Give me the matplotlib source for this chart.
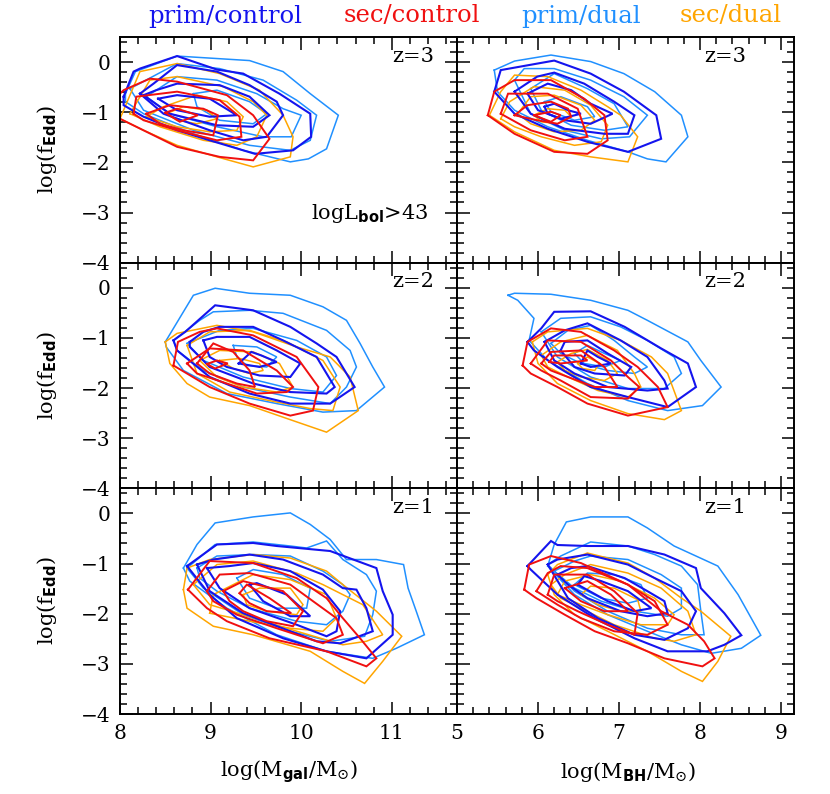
import numpy as np
import matplotlib
matplotlib.use("Agg")
import matplotlib.pyplot as plt
from matplotlib.ticker import MultipleLocator

plt.rcParams['font.family'] = ['DejaVu Serif']
plt.rcParams['mathtext.fontset'] = 'custom'
plt.rcParams['mathtext.rm'] = 'DejaVu Serif'
plt.rcParams['mathtext.it'] = 'DejaVu Serif:italic'
plt.rcParams['mathtext.bf'] = 'DejaVu Sans:bold'

series_names = ["prim/control", "sec/control", "prim/dual", "sec/dual"]
series_colors = ["#1414ee", "#f01010", "#2090ff", "#ffa500"]
series_lw = [1.5, 1.4, 1.1, 1.1]
redshifts = ["z=3", "z=2", "z=1"]
xlabels = [r"log(M$_{\mathbf{gal}}$/M$_{\odot}$)", r"log(M$_{\mathbf{BH}}$/M$_{\odot}$)"]
ylabel = r"log(f$_{\mathbf{Edd}}$)"
yticks = [0, -1, -2, -3, -4]
xticks_gal = [8, 9, 10, 11]
xticks_bh = [5, 6, 7, 8, 9]

# ---------------- contour vertices (x, log fEdd) ----------------
# z=3, galaxy mass
z3_gal_prim_control = [
    [(8.04,-0.69),(8.15,-0.19),(8.22,-0.13),(8.63,0.12),(9.07,-0.15),(9.36,-0.23),(9.76,-0.63),(10.10,-1.03),(10.11,-1.49),(9.91,-1.76),(9.49,-1.83),(8.99,-1.56),(8.63,-1.36),(8.26,-1.09),(8.04,-0.86)],
    [(8.22,-0.63),(8.37,-0.43),(8.63,-0.06),(9.07,-0.19),(9.43,-0.46),(9.73,-0.79),(9.80,-1.06),(9.62,-1.49),(9.36,-1.56),(8.99,-1.36),(8.48,-1.03)],
    [(8.26,-0.66),(8.40,-0.56),(8.63,-0.43),(9.10,-0.46),(9.43,-0.69),(9.65,-1.06),(9.47,-1.29),(9.07,-1.26),(8.55,-1.03)],
    [(8.42,-0.73),(8.63,-0.66),(8.99,-0.73),(9.29,-1.06),(8.99,-1.09),(8.63,-0.96)],
]
z3_gal_sec_control = [
    [(8.00,-0.63),(8.04,-0.56),(8.33,-0.33),(8.63,-0.39),(9.18,-0.66),(9.47,-1.06),(9.65,-1.53),(9.47,-1.96),(9.10,-1.89),(8.63,-1.69),(8.00,-1.13)],
    [(8.15,-1.03),(8.18,-0.69),(8.63,-0.59),(9.10,-0.76),(9.32,-1.09),(9.34,-1.49),(9.07,-1.56),(8.63,-1.36),(8.26,-1.16)],
    [(8.29,-1.03),(8.55,-0.86),(8.92,-0.93),(9.08,-1.06),(9.03,-1.46),(8.70,-1.36),(8.44,-1.23)],
    [(8.50,-1.01),(8.63,-0.93),(8.86,-1.06),(8.66,-1.19)],
]
z3_gal_prim_dual = [
    [(8.06,-0.63),(8.17,-0.19),(8.63,0.12),(9.43,0.03),(9.80,-0.19),(10.10,-0.63),(10.41,-1.06),(10.28,-1.73),(10.08,-1.93),(9.88,-1.99),(9.36,-1.76),(8.81,-1.43),(8.26,-1.03),(8.06,-0.79)],
    [(8.11,-0.53),(8.63,-0.03),(9.10,-0.13),(9.58,-0.36),(9.95,-0.76),(10.17,-1.06),(10.10,-1.56),(9.88,-1.76),(9.43,-1.66),(8.81,-1.36),(8.26,-0.96)],
    [(8.29,-0.69),(8.63,-0.29),(9.07,-0.36),(9.51,-0.63),(9.80,-0.93),(10.00,-1.06),(9.89,-1.49),(9.58,-1.49),(9.07,-1.29),(8.55,-1.03)],
    [(8.81,-0.63),(9.07,-0.56),(9.43,-0.79),(9.62,-1.03),(9.47,-1.23),(9.10,-1.16),(8.85,-0.89)],
]
z3_gal_sec_dual = [
    [(8.00,-1.13),(8.22,-0.19),(8.63,-0.03),(9.10,-0.23),(9.54,-0.56),(9.80,-1.06),(9.91,-1.49),(9.88,-1.89),(9.47,-2.09),(9.07,-1.89),(8.63,-1.66),(8.26,-1.36)],
    [(8.11,-1.03),(8.33,-0.36),(8.63,-0.29),(9.14,-0.49),(9.47,-0.79),(9.62,-1.06),(9.51,-1.49),(9.29,-1.66),(8.92,-1.56),(8.44,-1.29)],
    [(8.29,-1.09),(8.48,-0.89),(8.85,-0.66),(9.18,-0.79),(9.36,-1.09),(9.29,-1.36),(8.99,-1.39),(8.63,-1.29)],
    [(8.51,-1.03),(8.70,-0.89),(8.96,-0.96),(9.07,-1.13),(8.85,-1.23),(8.63,-1.16)],
]
# z=3, black hole mass
z3_bh_prim_control = [
    [(5.46,-0.59),(5.54,-0.16),(6.20,0.03),(6.65,-0.23),(7.06,-0.59),(7.46,-1.06),(7.52,-1.53),(7.11,-1.79),(6.61,-1.59),(6.12,-1.33),(5.71,-1.03)],
    [(5.71,-0.59),(5.99,-0.29),(6.20,-0.21),(6.57,-0.43),(6.94,-0.79),(7.19,-1.06),(7.11,-1.43),(6.82,-1.43),(6.33,-1.33),(5.91,-1.03)],
    [(5.87,-0.63),(6.12,-0.43),(6.41,-0.56),(6.65,-0.83),(6.92,-1.03),(6.65,-1.23),(6.33,-1.16),(6.00,-0.96)],
    [(6.08,-0.89),(6.20,-0.83),(6.37,-0.96),(6.53,-1.03),(6.28,-1.13),(6.12,-1.03)],
]
z3_bh_sec_control = [
    [(5.38,-1.06),(5.46,-0.59),(5.71,-0.36),(6.16,-0.36),(6.57,-0.73),(6.82,-1.06),(6.86,-1.56),(6.61,-1.83),(6.20,-1.79),(5.71,-1.43)],
    [(5.54,-1.03),(5.63,-0.63),(6.12,-0.63),(6.49,-0.93),(6.61,-1.49),(6.33,-1.56),(5.91,-1.36)],
    [(5.71,-1.06),(5.87,-0.86),(6.16,-0.79),(6.37,-0.93),(6.41,-1.09),(6.24,-1.23),(5.99,-1.16)],
    [(5.95,-1.06),(6.16,-0.99),(6.28,-1.06),(6.16,-1.19)],
]
z3_bh_prim_dual = [
    [(5.46,-0.16),(5.71,0.02),(6.16,0.14),(6.65,0.01),(7.06,-0.23),(7.44,-0.59),(7.77,-1.06),(7.85,-1.49),(7.58,-1.99),(7.35,-1.93),(7.11,-1.79),(6.61,-1.56),(6.12,-1.29),(5.71,-0.96),(5.50,-0.59)],
    [(5.71,-0.36),(5.83,-0.13),(6.20,-0.13),(6.65,-0.36),(7.06,-0.69),(7.35,-1.06),(7.13,-1.49),(6.78,-1.53),(6.33,-1.36),(5.91,-1.03)],
    [(5.91,-0.53),(6.20,-0.23),(6.61,-0.53),(6.94,-0.83),(7.11,-1.29),(6.82,-1.36),(6.41,-1.26),(6.04,-0.96)],
    [(6.08,-0.79),(6.28,-0.69),(6.61,-0.89),(6.70,-1.09),(6.45,-1.16),(6.16,-0.99)],
]
z3_bh_sec_dual = [
    [(5.40,-1.06),(5.54,-0.59),(5.71,-0.26),(6.12,-0.29),(6.53,-0.56),(6.86,-0.89),(7.02,-1.06),(7.23,-1.49),(7.11,-1.99),(6.65,-1.89),(6.20,-1.76),(5.71,-1.39)],
    [(5.54,-1.13),(5.65,-0.79),(5.95,-0.49),(6.33,-0.56),(6.65,-0.86),(6.86,-1.26),(6.78,-1.59),(6.45,-1.66),(6.04,-1.49),(5.71,-1.29)],
    [(5.75,-1.03),(5.91,-0.69),(6.20,-0.66),(6.53,-0.86),(6.70,-1.16),(6.53,-1.36),(6.20,-1.39),(5.91,-1.23)],
    [(5.95,-1.06),(6.12,-0.93),(6.33,-0.96),(6.41,-1.09),(6.24,-1.23),(6.04,-1.19)],
]
# z=2, galaxy mass
z2_gal_prim_control = [
    [(8.59,-1.05),(8.72,-0.88),(9.05,-0.35),(9.47,-0.45),(9.88,-0.78),(10.17,-1.11),(10.39,-1.38),(10.59,-1.98),(10.32,-2.31),(9.88,-2.31),(9.43,-2.11),(8.99,-1.78),(8.63,-1.25)],
    [(8.77,-1.08),(8.92,-0.88),(9.10,-0.78),(9.47,-0.78),(9.80,-1.05),(10.17,-1.38),(10.37,-1.98),(10.28,-2.11),(9.88,-2.08),(9.47,-1.91),(8.99,-1.58),(8.77,-1.18)],
    [(8.92,-1.05),(9.07,-0.98),(9.43,-0.98),(9.73,-1.25),(9.99,-1.51),(9.88,-1.78),(9.54,-1.75),(9.18,-1.58),(8.99,-1.38)],
    [(9.31,-1.51),(9.45,-1.28),(9.56,-1.35),(9.73,-1.48),(9.54,-1.58)],
]
z2_gal_sec_control = [
    [(8.59,-1.55),(8.64,-1.08),(8.88,-0.88),(9.07,-0.81),(9.47,-0.95),(9.95,-1.38),(10.19,-1.98),(10.13,-2.45),(9.88,-2.55),(9.43,-2.31),(8.99,-1.98)],
    [(8.74,-1.51),(8.99,-1.21),(9.36,-1.25),(9.73,-1.65),(9.91,-1.98),(9.84,-2.08),(9.51,-2.11),(9.18,-1.91),(8.85,-1.71)],
    [(8.85,-1.51),(9.03,-1.11),(9.25,-1.28),(9.43,-1.65),(9.49,-1.98),(9.29,-1.91),(8.99,-1.71)],
    [(8.96,-1.52),(9.07,-1.45),(9.19,-1.51),(9.05,-1.61)],
]
z2_gal_prim_dual = [
    [(8.50,-1.08),(8.81,-0.15),(9.05,-0.01),(9.43,-0.11),(9.88,-0.15),(10.24,-0.38),(10.50,-0.65),(10.65,-1.11),(10.79,-1.58),(10.92,-1.98),(10.61,-2.45),(10.24,-2.48),(9.73,-2.31),(9.18,-2.11),(8.70,-1.65),(8.51,-1.18)],
    [(8.59,-1.05),(8.88,-0.65),(9.03,-0.48),(9.43,-0.45),(9.80,-0.51),(10.28,-0.85),(10.54,-1.25),(10.61,-1.58),(10.50,-1.98),(10.32,-2.31),(9.88,-2.18),(9.36,-1.98),(8.92,-1.65),(8.63,-1.25)],
    [(8.74,-1.11),(9.10,-0.85),(9.47,-0.81),(9.95,-1.05),(10.28,-1.38),(10.39,-1.75),(10.24,-2.08),(9.88,-2.01),(9.36,-1.78),(8.92,-1.45)],
    [(9.25,-1.15),(9.51,-1.18),(9.73,-1.38),(9.62,-1.58),(9.40,-1.55),(9.29,-1.38)],
]
z2_gal_sec_dual = [
    [(8.50,-1.08),(8.63,-0.91),(9.07,-0.75),(9.47,-0.88),(9.95,-1.18),(10.32,-1.38),(10.54,-1.78),(10.63,-2.45),(10.28,-2.88),(9.91,-2.65),(9.43,-2.35),(8.99,-2.18),(8.74,-1.91),(8.55,-1.51)],
    [(8.74,-1.15),(8.99,-0.88),(9.43,-0.85),(9.84,-1.08),(10.24,-1.45),(10.43,-1.98),(10.35,-2.45),(10.10,-2.41),(9.65,-2.25),(9.21,-2.08),(8.85,-1.71)],
    [(8.88,-1.45),(9.10,-1.25),(9.47,-1.28),(9.76,-1.51),(9.91,-1.98),(9.73,-2.08),(9.36,-1.98),(9.07,-1.78)],
    [(9.10,-1.45),(9.32,-1.41),(9.54,-1.51),(9.58,-1.65),(9.43,-1.71),(9.25,-1.61)],
]
# z=2, black hole mass
z2_bh_prim_control = [
    [(5.87,-1.08),(6.04,-0.81),(6.20,-0.48),(6.65,-0.47),(7.07,-0.78),(7.52,-1.21),(7.85,-1.51),(7.95,-1.98),(7.60,-2.38),(7.11,-2.18),(6.65,-1.98),(6.24,-1.58),(5.95,-1.25)],
    [(6.08,-1.08),(6.33,-0.85),(6.61,-0.71),(7.02,-1.05),(7.35,-1.38),(7.56,-1.85),(7.60,-2.01),(7.35,-2.05),(6.86,-1.98),(6.45,-1.71),(6.20,-1.45)],
    [(6.28,-1.25),(6.33,-1.08),(6.61,-1.05),(6.86,-1.31),(7.15,-1.58),(7.07,-1.75),(6.70,-1.71),(6.45,-1.58)],
    [(6.53,-1.51),(6.61,-1.25),(6.74,-1.38),(6.90,-1.51),(6.65,-1.58)],
]
z2_bh_sec_control = [
    [(5.81,-1.55),(5.87,-1.08),(6.16,-0.81),(6.53,-0.88),(6.94,-1.25),(7.23,-1.58),(7.48,-1.98),(7.60,-2.38),(7.11,-2.55),(6.61,-2.31),(6.24,-1.98),(5.91,-1.71)],
    [(5.91,-1.51),(6.12,-1.05),(6.53,-1.08),(6.90,-1.45),(7.11,-1.78),(7.25,-1.98),(7.11,-2.21),(6.65,-2.18),(6.28,-1.85),(6.04,-1.65)],
    [(6.04,-1.51),(6.16,-1.28),(6.53,-1.25),(6.82,-1.58),(6.98,-1.98),(6.70,-1.98),(6.37,-1.78),(6.16,-1.65)],
    [(6.14,-1.48),(6.20,-1.35),(6.53,-1.35),(6.61,-1.45),(6.28,-1.51)],
]
z2_bh_prim_dual = [
    [(5.63,-0.15),(5.71,-0.11),(6.16,-0.13),(6.65,-0.25),(7.11,-0.45),(7.35,-0.65),(7.85,-1.08),(8.01,-1.45),(8.26,-1.98),(8.03,-2.35),(7.60,-2.45),(7.11,-2.25),(6.61,-1.91),(6.12,-1.45),(5.89,-1.05),(5.95,-0.61),(5.75,-0.25)],
    [(6.04,-0.88),(6.28,-0.61),(6.65,-0.58),(7.02,-0.78),(7.35,-1.05),(7.68,-1.38),(7.77,-1.71),(7.56,-2.01),(7.11,-2.01),(6.65,-1.78),(6.24,-1.38)],
    [(6.16,-1.11),(6.37,-0.85),(6.65,-0.75),(6.94,-1.05),(7.19,-1.38),(7.35,-1.58),(7.19,-1.71),(6.86,-1.65),(6.53,-1.51),(6.28,-1.31)],
    [(6.45,-1.31),(6.61,-1.15),(6.82,-1.31),(7.02,-1.45),(6.82,-1.58),(6.57,-1.51)],
]
z2_bh_sec_dual = [
    [(5.93,-1.08),(6.12,-0.88),(6.61,-0.81),(7.02,-1.05),(7.40,-1.38),(7.60,-1.71),(7.77,-2.45),(7.56,-2.63),(7.11,-2.51),(6.65,-2.25),(6.24,-1.91),(6.00,-1.51)],
    [(6.04,-1.35),(6.28,-1.08),(6.61,-0.95),(6.98,-1.25),(7.19,-1.71),(7.27,-1.98),(7.11,-2.18),(6.74,-2.05),(6.37,-1.78),(6.12,-1.58)],
    [(6.24,-1.48),(6.41,-1.31),(6.61,-1.23),(6.86,-1.45),(6.98,-1.71),(6.82,-1.85),(6.53,-1.78),(6.33,-1.65)],
    [(6.49,-1.51),(6.61,-1.38),(6.76,-1.51),(6.70,-1.65),(6.55,-1.61)],
]
# z=1, galaxy mass
z1_gal_prim_control = [
    [(8.74,-1.05),(9.07,-0.62),(9.47,-0.59),(9.73,-0.65),(10.32,-0.75),(10.83,-1.09),(10.90,-1.55),(11.01,-2.02),(11.01,-2.42),(10.72,-2.89),(10.28,-2.75),(9.80,-2.49),(9.29,-2.09),(8.99,-1.62)],
    [(8.85,-1.02),(9.03,-0.92),(9.43,-0.82),(9.80,-0.92),(10.24,-1.22),(10.46,-1.49),(10.61,-1.52),(10.72,-1.89),(10.79,-2.35),(10.43,-2.59),(10.17,-2.55),(9.88,-2.35),(9.36,-1.99),(8.99,-1.55)],
    [(8.96,-1.09),(9.21,-1.05),(9.47,-0.99),(9.88,-1.15),(10.24,-1.52),(10.43,-1.95),(10.39,-2.35),(10.28,-2.45),(9.95,-2.22),(9.43,-1.89),(9.10,-1.49)],
    [(9.43,-1.42),(9.51,-1.39),(9.84,-1.62),(10.10,-2.05),(9.88,-2.05),(9.58,-1.75)],
]
z1_gal_sec_control = [
    [(8.75,-1.52),(8.99,-0.95),(9.47,-0.99),(9.95,-1.29),(10.28,-1.69),(10.46,-2.09),(10.65,-2.49),(10.83,-2.89),(10.72,-3.05),(10.28,-2.75),(9.65,-2.49),(9.18,-2.15),(8.96,-1.89)],
    [(8.96,-1.55),(9.10,-1.22),(9.43,-1.19),(9.88,-1.42),(10.13,-1.75),(10.39,-2.09),(10.46,-2.42),(10.24,-2.59),(9.73,-2.29),(9.29,-2.02),(9.03,-1.75)],
    [(9.14,-1.55),(9.36,-1.35),(9.80,-1.55),(10.02,-1.95),(9.91,-2.25),(9.62,-2.15),(9.36,-1.95),(9.21,-1.75)],
    [(9.32,-1.59),(9.40,-1.42),(9.65,-1.69),(9.89,-1.99),(9.62,-1.95),(9.43,-1.79)],
]
z1_gal_prim_dual = [
    [(8.70,-1.09),(8.85,-0.62),(9.05,-0.19),(9.47,-0.07),(9.88,0.01),(10.10,-0.22),(10.32,-0.52),(10.50,-0.92),(10.83,-0.92),(11.13,-1.02),(11.18,-1.49),(11.27,-1.95),(11.36,-2.42),(11.05,-2.69),(10.79,-2.89),(10.28,-2.75),(9.73,-2.42),(9.18,-1.89),(8.77,-1.35)],
    [(8.74,-1.09),(9.05,-0.62),(9.47,-0.57),(9.88,-0.65),(10.06,-0.69),(10.28,-0.55),(10.46,-0.92),(10.72,-1.22),(10.83,-1.55),(10.79,-2.02),(10.70,-2.45),(10.32,-2.55),(9.88,-2.35),(9.36,-2.02),(8.92,-1.49)],
    [(8.85,-1.09),(9.07,-0.85),(9.47,-0.82),(9.88,-0.85),(10.24,-1.15),(10.46,-1.42),(10.54,-1.62),(10.46,-1.95),(10.28,-2.22),(9.95,-2.15),(9.43,-1.89),(9.07,-1.55),(8.88,-1.29)],
    [(9.29,-1.29),(9.47,-1.12),(9.80,-1.22),(10.10,-1.49),(10.06,-1.89),(9.73,-1.89),(9.43,-1.69)],
]
z1_gal_sec_dual = [
    [(8.70,-1.52),(8.74,-1.09),(8.99,-0.92),(9.47,-0.82),(9.88,-0.89),(10.28,-1.15),(10.46,-1.42),(10.83,-1.95),(11.11,-2.45),(10.90,-2.95),(10.70,-3.39),(10.46,-3.15),(10.10,-2.75),(9.47,-2.42),(9.03,-2.25),(8.74,-1.89)],
    [(8.81,-1.42),(9.07,-1.02),(9.47,-0.95),(9.95,-1.19),(10.24,-1.42),(10.68,-1.82),(10.90,-2.42),(10.72,-2.55),(10.46,-2.62),(9.95,-2.35),(9.36,-2.02),(8.99,-1.82)],
    [(8.99,-1.99),(9.03,-1.62),(9.47,-1.22),(9.88,-1.32),(10.28,-1.62),(10.39,-2.09),(10.24,-2.35),(9.88,-2.29),(9.43,-2.15)],
    [(9.36,-1.62),(9.54,-1.49),(9.88,-1.49),(10.02,-1.82),(9.95,-2.02),(9.62,-1.95),(9.40,-1.82)],
]
# z=1, black hole mass
z1_bh_prim_control = [
    [(5.87,-1.05),(6.16,-0.55),(6.24,-0.63),(6.61,-0.65),(7.11,-0.65),(7.56,-0.82),(7.95,-1.09),(8.01,-1.49),(8.30,-1.99),(8.51,-2.43),(8.30,-2.62),(8.09,-2.75),(7.60,-2.75),(7.19,-2.49),(6.70,-2.09),(6.24,-1.62),(5.91,-1.12)],
    [(6.12,-1.02),(6.24,-0.92),(6.61,-0.82),(7.11,-1.02),(7.44,-1.29),(7.77,-1.55),(7.95,-1.95),(7.85,-2.29),(7.56,-2.52),(7.19,-2.42),(6.74,-2.09),(6.37,-1.69)],
    [(6.24,-1.22),(6.41,-1.09),(6.61,-1.05),(7.07,-1.29),(7.35,-1.55),(7.56,-1.75),(7.60,-1.99),(7.35,-2.05),(7.02,-1.95),(6.61,-1.69),(6.37,-1.42)],
    [(6.49,-1.42),(6.57,-1.25),(6.78,-1.35),(7.11,-1.55),(7.40,-1.89),(7.19,-1.95),(6.86,-1.75)],
]
z1_bh_sec_control = [
    [(5.83,-1.52),(5.89,-1.02),(6.16,-0.85),(6.53,-0.99),(7.11,-1.42),(7.52,-1.95),(7.85,-2.22),(8.05,-2.55),(8.18,-2.89),(8.03,-3.05),(7.56,-2.89),(7.11,-2.59),(6.70,-2.35),(6.33,-2.02),(5.98,-1.69)],
    [(5.98,-1.55),(6.12,-1.19),(6.28,-1.05),(6.61,-1.09),(7.11,-1.42),(7.44,-1.75),(7.60,-2.22),(7.35,-2.42),(6.94,-2.35),(6.53,-2.09),(6.24,-1.82)],
    [(6.12,-1.62),(6.20,-1.22),(6.61,-1.22),(6.94,-1.55),(7.23,-1.99),(7.19,-2.42),(6.86,-2.22),(6.49,-1.95),(6.24,-1.75)],
    [(6.33,-1.49),(6.61,-1.35),(6.90,-1.62),(7.11,-1.95),(6.82,-1.95),(6.53,-1.75)],
]
z1_bh_prim_dual = [
    [(6.12,-1.05),(6.20,-0.62),(6.35,-0.17),(6.65,-0.07),(7.11,-0.07),(7.35,-0.29),(7.68,-0.65),(8.22,-1.05),(8.47,-1.62),(8.75,-2.43),(8.51,-2.69),(8.14,-2.79),(7.77,-2.62),(7.35,-2.35),(6.86,-2.02),(6.45,-1.62)],
    [(6.12,-1.02),(6.28,-0.85),(6.65,-0.57),(7.11,-0.65),(7.44,-0.82),(7.77,-1.05),(7.97,-1.42),(8.01,-1.95),(8.05,-2.42),(7.77,-2.42),(7.35,-2.29),(6.86,-1.95),(6.45,-1.55)],
    [(6.20,-1.15),(6.45,-0.95),(6.65,-0.85),(7.11,-0.92),(7.52,-1.22),(7.77,-1.49),(7.77,-1.89),(7.60,-2.05),(7.19,-1.95),(6.78,-1.75),(6.45,-1.49)],
    [(6.45,-1.42),(6.61,-1.19),(6.94,-1.22),(7.27,-1.42),(7.35,-1.69),(7.11,-1.79),(6.78,-1.69)],
]
z1_bh_sec_dual = [
    [(6.12,-1.22),(6.24,-1.02),(6.61,-0.79),(7.11,-0.99),(7.44,-1.29),(7.77,-1.69),(8.01,-1.95),(8.38,-2.45),(8.22,-2.95),(8.03,-3.35),(7.77,-3.15),(7.35,-2.75),(6.86,-2.35),(6.45,-2.02),(6.20,-1.62)],
    [(6.16,-1.42),(6.33,-1.22),(6.65,-1.02),(7.11,-1.19),(7.52,-1.49),(7.85,-1.95),(7.95,-2.42),(7.68,-2.55),(7.44,-2.49),(6.94,-2.22),(6.53,-1.89),(6.28,-1.69)],
    [(6.24,-1.62),(6.33,-1.35),(6.65,-1.22),(7.02,-1.35),(7.44,-1.69),(7.68,-2.02),(7.60,-2.22),(7.27,-2.22),(6.86,-2.02),(6.53,-1.82)],
    [(6.53,-1.62),(6.65,-1.45),(6.94,-1.49),(7.23,-1.72),(7.27,-1.95),(7.02,-1.95),(6.74,-1.82)],
]

panels = [
    [[z3_gal_prim_control, z3_gal_sec_control, z3_gal_prim_dual, z3_gal_sec_dual],
     [z3_bh_prim_control, z3_bh_sec_control, z3_bh_prim_dual, z3_bh_sec_dual]],
    [[z2_gal_prim_control, z2_gal_sec_control, z2_gal_prim_dual, z2_gal_sec_dual],
     [z2_bh_prim_control, z2_bh_sec_control, z2_bh_prim_dual, z2_bh_sec_dual]],
    [[z1_gal_prim_control, z1_gal_sec_control, z1_gal_prim_dual, z1_gal_sec_dual],
     [z1_bh_prim_control, z1_bh_sec_control, z1_bh_prim_dual, z1_bh_sec_dual]],
]

# ---------------- figure ----------------
W, H = 830, 794
fig = plt.figure(figsize=(W / 100, H / 100), dpi=100)

x_left, x_mid, x_right = 120, 457, 794
y_top, y_bot = 37, 714
row_h = (y_bot - y_top) / 3
xlims = [(8.0, 11.72), (5.0, 9.16)]
draw_order = [2, 3, 0, 1]

for r in range(3):
    for c in range(2):
        x0 = x_left if c == 0 else x_mid
        x1 = x_mid if c == 0 else x_right
        top = y_top + r * row_h
        ax = fig.add_axes([x0 / W, 1 - (top + row_h) / H, (x1 - x0) / W, row_h / H])
        for s in draw_order:
            for poly in panels[r][c][s]:
                xs = [p[0] for p in poly] + [poly[0][0]]
                ys = [p[1] for p in poly] + [poly[0][1]]
                ax.plot(xs, ys, color=series_colors[s], lw=series_lw[s],
                        solid_joinstyle='miter')
        ax.set_xlim(*xlims[c])
        ax.set_ylim(-4, 0.5)
        ax.xaxis.set_major_locator(MultipleLocator(1))
        ax.xaxis.set_minor_locator(MultipleLocator(0.2))
        ax.yaxis.set_major_locator(MultipleLocator(1))
        ax.yaxis.set_minor_locator(MultipleLocator(0.2))
        ax.tick_params(which='both', direction='in', top=True, right=True,
                       width=1.1, labelsize=14.5, pad=7)
        ax.tick_params(which='major', length=9)
        ax.tick_params(which='minor', length=5)
        for sp in ax.spines.values():
            sp.set_linewidth(1.4)
        if c == 0:
            ax.set_yticks(yticks)
            ax.set_yticklabels([("\u2212%d" % -v) if v < 0 else str(v) for v in yticks])
        else:
            ax.set_yticklabels([])
        if r == 2:
            ticks = xticks_gal if c == 0 else xticks_bh
            ax.set_xticks(ticks)
            ax.set_xticklabels([str(t) for t in ticks])
        else:
            ax.set_xticklabels([])
        zx = 0.87 if c == 0 else 0.795
        ax.text(zx, 0.915, redshifts[r], transform=ax.transAxes, fontsize=15,
                ha='center', va='center')
        if r == 0 and c == 0:
            ax.text(0.74, 0.22, r"log$\mathrm{L}_{\mathbf{bol}}$>43", transform=ax.transAxes,
                    fontsize=15, ha='center', va='center')
        if c == 0:
            fig.text(47 / W, 1 - (top + row_h / 2) / H, ylabel, rotation=90,
                     fontsize=15, ha='center', va='center')

fig.text(289 / W, 1 - 772 / H, xlabels[0], fontsize=15, ha='center', va='center')
fig.text(628 / W, 1 - 772 / H, xlabels[1], fontsize=15, ha='center', va='center')

legend_x = [225, 412, 581, 731]
for name, col, lx in zip(series_names, series_colors, legend_x):
    fig.text(lx / W, 1 - 16 / H, name, color=col, fontsize=17.5, ha='center', va='center')

fig.savefig("out.png", dpi=100)
